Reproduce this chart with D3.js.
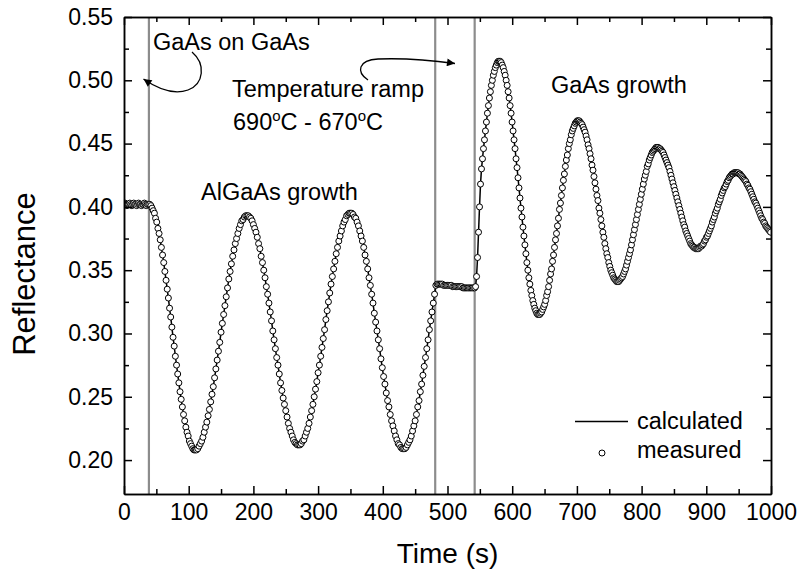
<!DOCTYPE html>
<html>
<head>
<meta charset="utf-8">
<script src="https://cdn.jsdelivr.net/npm/d3@7"></script>
<style>
    body { margin: 0; background: #fff; }
    svg { display: block; font-family: "Liberation Sans", Arial, sans-serif; }
    .axis path, .axis line { stroke: #000; stroke-width: 1.5px; }
    .axis text { font-size: 23px; fill: #000; }
</style>
</head>
<body>
<script>
// measured reflectance, one array per stretch of the run
var flatStart = [0.402, 0.403, 0.402, 0.401, 0.402, 0.402, 0.403, 0.402, 0.401, 0.402, 0.403, 0.402, 0.402,
    0.401, 0.402, 0.403, 0.402, 0.402, 0.401, 0.402, 0.402, 0.403, 0.402, 0.401, 0.402];
var algaas1 = [0.402, 0.402, 0.401, 0.399, 0.397, 0.395, 0.391, 0.388, 0.383, 0.379, 0.374, 0.368, 0.362, 0.356,
    0.349, 0.342, 0.335, 0.328, 0.320, 0.313, 0.305, 0.297, 0.290, 0.282, 0.275, 0.268, 0.261, 0.254, 0.248,
    0.242, 0.236, 0.231, 0.226, 0.222, 0.219, 0.215, 0.213, 0.211, 0.209, 0.208];
var algaas2 = [0.208, 0.208, 0.209, 0.211, 0.213, 0.215, 0.218, 0.222, 0.226, 0.230, 0.235, 0.240, 0.246, 0.252,
    0.258, 0.265, 0.272, 0.279, 0.286, 0.293, 0.301, 0.308, 0.315, 0.322, 0.329, 0.336, 0.343, 0.349, 0.355,
    0.361, 0.366, 0.371, 0.375, 0.379, 0.383, 0.386, 0.389, 0.390, 0.392, 0.393];
var algaas3 = [0.393, 0.393, 0.392, 0.391, 0.389, 0.386, 0.383, 0.380, 0.376, 0.371, 0.367, 0.361, 0.356, 0.350,
    0.344, 0.337, 0.331, 0.324, 0.317, 0.310, 0.302, 0.295, 0.288, 0.281, 0.275, 0.268, 0.261, 0.255, 0.249,
    0.244, 0.239, 0.234, 0.229, 0.225, 0.222, 0.219, 0.216, 0.214, 0.213, 0.212];
var algaas4 = [0.212, 0.212, 0.213, 0.215, 0.216, 0.219, 0.222, 0.225, 0.229, 0.234, 0.239, 0.244, 0.250, 0.256,
    0.262, 0.269, 0.275, 0.282, 0.289, 0.296, 0.303, 0.311, 0.318, 0.325, 0.332, 0.339, 0.345, 0.351, 0.357,
    0.363, 0.368, 0.373, 0.377, 0.381, 0.385, 0.388, 0.390, 0.393, 0.394, 0.395];
var algaas5 = [0.395, 0.395, 0.394, 0.392, 0.391, 0.388, 0.385, 0.381, 0.377, 0.373, 0.368, 0.362, 0.357, 0.351,
    0.344, 0.338, 0.331, 0.324, 0.316, 0.309, 0.302, 0.295, 0.288, 0.280, 0.273, 0.266, 0.260, 0.253, 0.247,
    0.242, 0.236, 0.231, 0.227, 0.223, 0.219, 0.216, 0.213, 0.212, 0.210, 0.209];
var algaas6 = [0.209, 0.209, 0.210, 0.212, 0.214, 0.216, 0.219, 0.223, 0.227, 0.231, 0.236, 0.242, 0.247, 0.254,
    0.260, 0.267, 0.274, 0.281, 0.288, 0.295, 0.303, 0.310, 0.317, 0.324, 0.331, 0.338];
var ramp = [0.339, 0.339, 0.339, 0.339, 0.339, 0.338, 0.338, 0.338, 0.338, 0.338, 0.338, 0.338, 0.337, 0.337,
    0.337, 0.337, 0.337, 0.337, 0.337, 0.337, 0.336, 0.336, 0.336, 0.336, 0.336, 0.336, 0.336, 0.336, 0.336, 0.336];
var gaasRise = [0.337, 0.345, 0.360, 0.380, 0.400, 0.418, 0.430, 0.438, 0.446, 0.453, 0.460, 0.467, 0.474, 0.480,
    0.486, 0.491, 0.496, 0.500, 0.504, 0.507, 0.510, 0.512, 0.514, 0.515];
var gaas1 = [0.515, 0.515, 0.514, 0.512, 0.510, 0.507, 0.504, 0.500, 0.496, 0.491, 0.486, 0.480, 0.474, 0.467,
    0.460, 0.453, 0.446, 0.438, 0.431, 0.423, 0.415, 0.407, 0.399, 0.392, 0.384, 0.377, 0.370, 0.363, 0.356,
    0.350, 0.344, 0.339, 0.334, 0.330, 0.326, 0.323, 0.320, 0.318, 0.316, 0.315];
var gaas2 = [0.315, 0.315, 0.316, 0.317, 0.319, 0.321, 0.323, 0.326, 0.330, 0.333, 0.337, 0.342, 0.347, 0.351,
    0.357, 0.362, 0.368, 0.374, 0.379, 0.385, 0.391, 0.398, 0.403, 0.409, 0.415, 0.421, 0.426, 0.432, 0.437,
    0.441, 0.446, 0.450, 0.453, 0.457, 0.460, 0.462, 0.464, 0.466, 0.467, 0.468];
var gaas3 = [0.468, 0.468, 0.467, 0.466, 0.465, 0.463, 0.461, 0.459, 0.456, 0.453, 0.449, 0.446, 0.442, 0.438,
    0.433, 0.429, 0.424, 0.419, 0.414, 0.409, 0.405, 0.399, 0.395, 0.390, 0.385, 0.380, 0.376, 0.371, 0.367,
    0.363, 0.360, 0.356, 0.353, 0.350, 0.348, 0.346, 0.344, 0.343, 0.342, 0.341];
var gaas4 = [0.341, 0.341, 0.342, 0.343, 0.344, 0.345, 0.347, 0.349, 0.351, 0.354, 0.357, 0.360, 0.363, 0.366,
    0.370, 0.374, 0.378, 0.382, 0.386, 0.390, 0.394, 0.398, 0.402, 0.406, 0.410, 0.414, 0.418, 0.422, 0.425,
    0.428, 0.432, 0.434, 0.437, 0.439, 0.441, 0.443, 0.444, 0.445, 0.446, 0.447];
var gaas5 = [0.447, 0.447, 0.446, 0.446, 0.445, 0.444, 0.443, 0.441, 0.439, 0.437, 0.435, 0.433, 0.431, 0.428,
    0.425, 0.422, 0.419, 0.416, 0.413, 0.410, 0.407, 0.404, 0.401, 0.398, 0.395, 0.392, 0.389, 0.386, 0.384,
    0.381, 0.379, 0.377, 0.375, 0.373, 0.371, 0.370, 0.369, 0.368, 0.368, 0.367];
var gaas6 = [0.367, 0.367, 0.367, 0.368, 0.369, 0.369, 0.370, 0.371, 0.373, 0.374, 0.376, 0.377, 0.379, 0.381,
    0.383, 0.385, 0.388, 0.390, 0.392, 0.395, 0.397, 0.399, 0.402, 0.404, 0.406, 0.409, 0.411, 0.413, 0.415,
    0.416, 0.418, 0.420, 0.421, 0.423, 0.424, 0.425, 0.426, 0.426, 0.427, 0.427];
var gaas7 = [0.427, 0.427, 0.427, 0.426, 0.426, 0.425, 0.424, 0.423, 0.422, 0.421, 0.420, 0.418, 0.417, 0.415,
    0.414, 0.412, 0.410, 0.408, 0.406, 0.404, 0.403, 0.401, 0.399, 0.397, 0.395, 0.393, 0.391, 0.390, 0.388,
    0.387, 0.385, 0.384, 0.383, 0.382, 0.381, 0.380];

// time grid of each stretch: start (s) and sampling step (s)
var segStart = [0, 38, 110, 190, 270, 350, 432, 484, 543.4, 580, 641, 702, 763, 824, 885, 946];
var segStep = [1.5, 1.8, 2, 2, 2, 2.05, 2, 2, 1.525, 1.525, 1.525, 1.525, 1.525, 1.525, 1.525, 1.525];
var segValues = [flatStart, algaas1, algaas2, algaas3, algaas4, algaas5, algaas6, ramp, gaasRise,
    gaas1, gaas2, gaas3, gaas4, gaas5, gaas6, gaas7];

var stageLines = [38.5, 481, 542];   // start of AlGaAs, start of ramp, start of GaAs
var xMajor = [0, 100, 200, 300, 400, 500, 600, 700, 800, 900, 1000];
var xMinor = [50, 150, 250, 350, 450, 550, 650, 750, 850, 950];
var yMajor = [0.20, 0.25, 0.30, 0.35, 0.40, 0.45, 0.50, 0.55];
var yMinor = [0.225, 0.275, 0.325, 0.375, 0.425, 0.475, 0.525];

var dataset = [];
segValues.forEach(function (vals, s) {
    vals.forEach(function (v, i) {
        dataset.push({ t: segStart[s] + i * segStep[s], r: v });
    });
});

var w = 799;
var h = 576;
var margin = { top: 17, right: 28, bottom: 82, left: 124 };

var x = d3.scaleLinear().domain([0, 1000]).range([margin.left, w - margin.right]);
var y = d3.scaleLinear().domain([0.1732, 0.55]).range([h - margin.bottom, margin.top]);

var svg = d3.select("body").append("svg").attr("width", w).attr("height", h);

svg.append("defs").append("clipPath").attr("id", "plot")
    .append("rect").attr("x", margin.left).attr("y", margin.top)
    .attr("width", w - margin.left - margin.right).attr("height", h - margin.top - margin.bottom);

var marker = svg.select("defs").append("marker").attr("id", "head")
    .attr("viewBox", "0 0 10 10").attr("refX", 10).attr("refY", 5)
    .attr("markerUnits", "userSpaceOnUse").attr("markerWidth", 13).attr("markerHeight", 8)
    .attr("orient", "auto");
marker.append("path").attr("d", "M0,0L10,5L0,10z").attr("fill", "#000");

// stage boundaries
svg.selectAll(".stage").data(stageLines).enter().append("line").attr("class", "stage")
    .attr("x1", d => x(d)).attr("x2", d => x(d))
    .attr("y1", y.range()[0]).attr("y2", y.range()[1])
    .attr("stroke", "#8c8c8c").attr("stroke-width", 2.2);

var plot = svg.append("g").attr("clip-path", "url(#plot)");

// calculated curve
var line = d3.line().x(d => x(d.t)).y(d => y(d.r));
plot.append("path").datum(dataset).attr("d", line)
    .attr("fill", "none").attr("stroke", "#000").attr("stroke-width", 1.5);

// measured points
plot.selectAll(".point").data(dataset).enter().append("circle").attr("class", "point")
    .attr("cx", d => x(d.t)).attr("cy", d => y(d.r)).attr("r", 3)
    .attr("fill", "#fff").attr("stroke", "#000").attr("stroke-width", 1);

// axes, ticks pointing inward on all four sides
var bottom = h - margin.bottom;
svg.append("g").attr("class", "axis").attr("transform", "translate(0," + bottom + ")")
    .call(d3.axisBottom(x).tickValues(xMajor).tickSize(-8).tickSizeOuter(0).tickPadding(10).tickFormat(d3.format("d")));
svg.append("g").attr("class", "axis").attr("transform", "translate(0," + bottom + ")")
    .call(d3.axisBottom(x).tickValues(xMinor).tickSize(-5).tickSizeOuter(0).tickFormat(""));
svg.append("g").attr("class", "axis").attr("transform", "translate(0," + margin.top + ")")
    .call(d3.axisTop(x).tickValues(xMajor).tickSize(-8).tickSizeOuter(0).tickFormat(""));
svg.append("g").attr("class", "axis").attr("transform", "translate(0," + margin.top + ")")
    .call(d3.axisTop(x).tickValues(xMinor).tickSize(-5).tickSizeOuter(0).tickFormat(""));

svg.append("g").attr("class", "axis").attr("transform", "translate(" + margin.left + ",0)")
    .call(d3.axisLeft(y).tickValues(yMajor).tickSize(-8).tickSizeOuter(0).tickPadding(11).tickFormat(d3.format(".2f")));
svg.append("g").attr("class", "axis").attr("transform", "translate(" + margin.left + ",0)")
    .call(d3.axisLeft(y).tickValues(yMinor).tickSize(-5).tickSizeOuter(0).tickFormat(""));
svg.append("g").attr("class", "axis").attr("transform", "translate(" + (w - margin.right) + ",0)")
    .call(d3.axisRight(y).tickValues(yMajor).tickSize(-8).tickSizeOuter(0).tickFormat(""));
svg.append("g").attr("class", "axis").attr("transform", "translate(" + (w - margin.right) + ",0)")
    .call(d3.axisRight(y).tickValues(yMinor).tickSize(-5).tickSizeOuter(0).tickFormat(""));

// axis titles
svg.append("text").attr("x", (margin.left + w - margin.right) / 2).attr("y", 563)
    .attr("text-anchor", "middle").attr("font-size", 28).text("Time (s)");
svg.append("text").attr("transform", "translate(35,274) rotate(-90)")
    .attr("text-anchor", "middle").attr("font-size", 31).text("Reflectance");

// annotations
svg.append("text").attr("x", 153).attr("y", 50).attr("font-size", 23.5).text("GaAs on GaAs");
svg.append("text").attr("x", 232).attr("y", 97).attr("font-size", 23.5).text("Temperature ramp");
var temp = svg.append("text").attr("x", 233).attr("y", 130).attr("font-size", 23.5);
temp.append("tspan").text("690");
temp.append("tspan").attr("font-size", 15).attr("dy", -9).text("o");
temp.append("tspan").attr("dy", 9).text("C - 670");
temp.append("tspan").attr("font-size", 15).attr("dy", -9).text("o");
temp.append("tspan").attr("dy", 9).text("C");
svg.append("text").attr("x", 201).attr("y", 200).attr("font-size", 23.5).text("AlGaAs growth");
svg.append("text").attr("x", 551).attr("y", 93).attr("font-size", 23.5).text("GaAs growth");

svg.append("path").attr("d", "M192,52C206,64 204,84 188,90C174,95 158,89 143.5,79")
    .attr("fill", "none").attr("stroke", "#000").attr("stroke-width", 1.3).attr("marker-end", "url(#head)");
svg.append("path").attr("d", "M368,80C356,72 358,60 378,59C405,58 430,60 455,63.5")
    .attr("fill", "none").attr("stroke", "#000").attr("stroke-width", 1.3).attr("marker-end", "url(#head)");

// legend
var legend = svg.append("g").attr("font-size", 23.5);
legend.append("line").attr("x1", 575).attr("x2", 628).attr("y1", 421.5).attr("y2", 421.5)
    .attr("stroke", "#000").attr("stroke-width", 1.5);
legend.append("text").attr("x", 637).attr("y", 429).text("calculated");
legend.append("circle").attr("cx", 602).attr("cy", 453).attr("r", 3)
    .attr("fill", "#fff").attr("stroke", "#000").attr("stroke-width", 1);
legend.append("text").attr("x", 637).attr("y", 458).text("measured");
</script>
</body>
</html>
